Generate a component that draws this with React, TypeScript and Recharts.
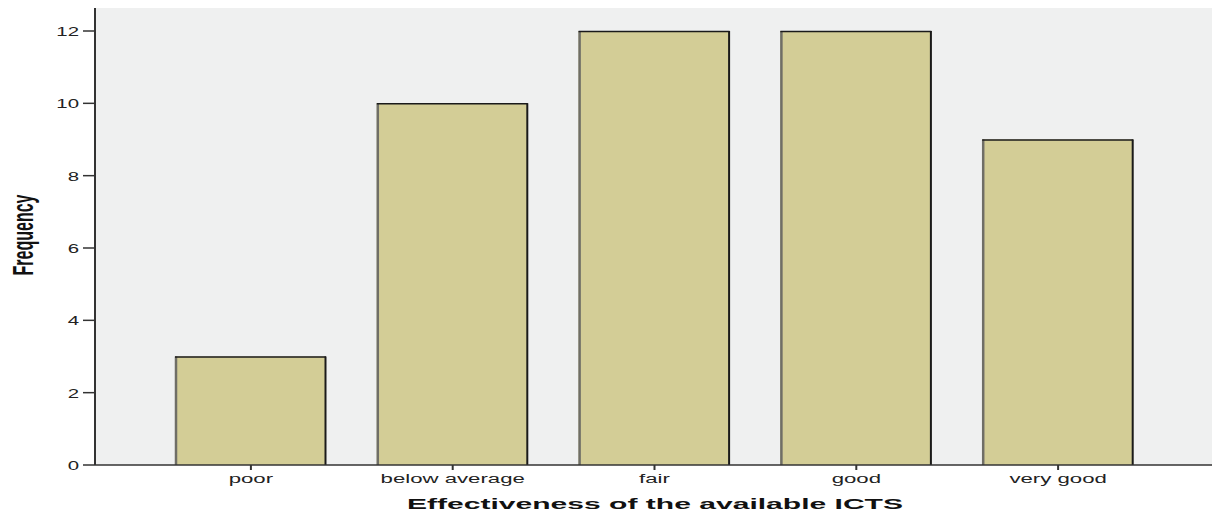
import React from "react";
import { Bar, BarChart, Label, XAxis, YAxis, CartesianGrid } from "recharts";

const categories = ["poor", "below average", "fair", "good", "very good"];
const frequency = [3, 10, 12, 12, 9];
const yTicks = [0, 2, 4, 6, 8, 10, 12];

const data = categories.map((c, i) => ({ name: c, freq: frequency[i] }));

const FONT = "Arial, 'Liberation Sans', sans-serif";
// the original export is stretched sideways, so text gets a horizontal scale
const STRETCH = 1.85;

function SpssBar(props: any) {
  const { x, y, width, height } = props;
  if (!height) return null;
  return (
    <g>
      <rect x={x} y={y} width={width} height={height} fill="#d3cd96" />
      <line x1={x + 1} y1={y} x2={x + 1} y2={y + height} stroke="#6f6e66" strokeWidth={2.5} />
      <line x1={x} y1={y + 0.5} x2={x + width} y2={y + 0.5} stroke="#1a1a1a" strokeWidth={1.5} />
      <line x1={x + width - 0.5} y1={y} x2={x + width - 0.5} y2={y + height} stroke="#1a1a1a" strokeWidth={2} />
    </g>
  );
}

function XTick(props: any) {
  const { x, y, payload } = props;
  return (
    <text
      transform={`translate(${x}, ${y + 11}) scale(${STRETCH}, 1)`}
      textAnchor="middle"
      fill="#222"
      fontSize={12}
      fontFamily={FONT}
    >
      {payload.value}
    </text>
  );
}

function YTick(props: any) {
  const { x, y, payload } = props;
  return (
    <text
      transform={`translate(${x - 2}, ${y + 5}) scale(1.7, 1)`}
      textAnchor="end"
      fill="#222"
      fontSize={12}
      fontFamily={FONT}
    >
      {payload.value}
    </text>
  );
}

export default function App() {
  return (
    <div
      style={{
        position: "absolute",
        left: 0,
        top: 0,
        width: 1212,
        height: 514,
        overflow: "hidden",
        background: "#fff",
      }}
    >
      <BarChart
        width={1232}
        height={514}
        data={data}
        margin={{ top: 8, right: 18, bottom: 0, left: 0 }}
        barCategoryGap={0}
      >
        <CartesianGrid fill="#eff0f0" vertical={false} horizontal={false} />
        <XAxis
          xAxisId="top"
          orientation="top"
          dataKey="name"
          height={0}
          tick={false}
          tickLine={false}
          axisLine={{ stroke: "#666", strokeWidth: 2 }}
        />
        <XAxis
          dataKey="name"
          height={49}
          padding={{ left: 55, right: 55 }}
          tick={<XTick />}
          tickSize={5}
          tickLine={{ stroke: "#333", strokeWidth: 2 }}
          axisLine={{ stroke: "#333", strokeWidth: 1.5 }}
          interval={0}
        >
          <Label
            content={() => (
              <text
                transform={`translate(655, 509) scale(1.94, 1)`}
                textAnchor="middle"
                fill="#111"
                fontSize={15.5}
                fontWeight="bold"
                fontFamily={FONT}
              >
                Effectiveness of the available ICTS
              </text>
            )}
          />
        </XAxis>
        <YAxis
          width={95}
          domain={[0, 12]}
          ticks={yTicks}
          padding={{ top: 23 }}
          tick={<YTick />}
          tickSize={12}
          tickLine={{ stroke: "#333", strokeWidth: 1.5 }}
          axisLine={{ stroke: "#333", strokeWidth: 2 }}
        >
          <Label
            content={() => (
              <text
                transform={`translate(33, 235) scale(${STRETCH}, 1) rotate(-90)`}
                textAnchor="middle"
                fill="#111"
                fontSize={16}
                fontWeight="bold"
                fontFamily={FONT}
              >
                Frequency
              </text>
            )}
          />
        </YAxis>
        <Bar dataKey="freq" barSize={151} shape={SpssBar} isAnimationActive={false} />
      </BarChart>
    </div>
  );
}
